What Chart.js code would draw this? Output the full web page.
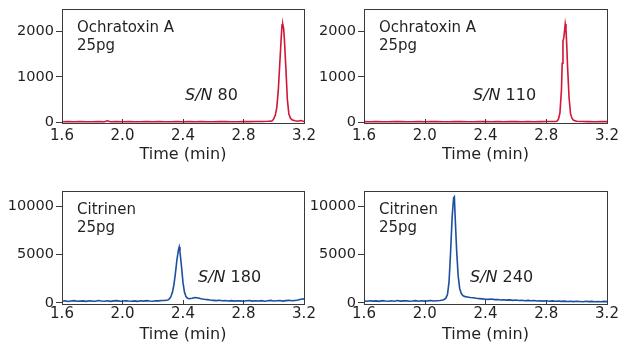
<!DOCTYPE html>
<html>
<head>
<meta charset="utf-8">
<script src="https://cdn.jsdelivr.net/npm/chart.js@4.4.1/dist/chart.umd.min.js"></script>
<style>
  html, body { margin: 0; padding: 0; background: #fff; }
  #wrap { position: relative; width: 620px; height: 344px; overflow: hidden; }
  canvas { position: absolute; }
</style>
</head>
<body>
<div id="wrap">
  <canvas id="c1" width="320" height="164" style="left:0;top:0"></canvas>
  <canvas id="c2" width="320" height="164" style="left:300px;top:0"></canvas>
  <canvas id="c3" width="320" height="174" style="left:0;top:170px"></canvas>
  <canvas id="c4" width="320" height="174" style="left:300px;top:170px"></canvas>
</div>
<script>
// time axis ticks (min)
const timeTicks = [1.6, 2.0, 2.4, 2.8, 3.2];
const otaTicks = [0, 1000, 2000];
const citTicks = [0, 5000, 10000];

// Ochratoxin A, left panel (S/N 80)
const otaTimeA = [1.60,1.64,1.68,1.72,1.76,1.80,1.84,1.88,1.90,1.92,
  1.96,2.00,2.04,2.08,2.12,2.16,2.20,2.24,2.28,2.32,
  2.36,2.40,2.44,2.48,2.52,2.56,2.60,2.64,2.68,2.72,
  2.76,2.80,2.84,2.88,2.92,2.96,2.98,2.99,3.00,3.01,
  3.02,3.03,3.04,3.05,3.055,3.06,3.065,3.07,3.08,3.09,
  3.10,3.11,3.12,3.14,3.16,3.18,3.20];
const otaValsA = [8,12,6,10,9,7,11,8,30,9,
  10,8,12,7,9,11,8,10,6,9,
  12,8,10,7,11,9,8,12,10,9,
  7,11,10,12,14,18,22,30,70,150,
  320,700,1300,1900,2150,2160,2080,1850,1200,500,
  180,90,50,28,18,35,12];

// Ochratoxin A, right panel (S/N 110)
const otaTimeB = [1.60,1.64,1.68,1.72,1.76,1.80,1.84,1.88,1.92,1.96,
  2.00,2.04,2.08,2.12,2.16,2.20,2.24,2.28,2.32,2.36,
  2.40,2.44,2.48,2.52,2.56,2.60,2.64,2.68,2.72,2.76,
  2.80,2.84,2.86,2.87,2.88,2.89,2.90,2.905,2.91,2.915,
  2.92,2.925,2.93,2.935,2.94,2.95,2.96,2.97,2.98,3.00,
  3.04,3.08,3.12,3.16,3.20];
const otaValsB = [10,8,12,9,7,11,10,8,9,12,
  8,10,11,7,9,10,12,8,9,11,
  10,8,13,9,10,12,8,11,9,10,
  12,14,12,20,60,200,700,1300,1800,1850,
  2000,2170,2050,1700,1250,550,180,80,40,18,
  12,10,9,11,10];

// Citrinin, left panel (S/N 180)
const citTimeA = [1.60,1.62,1.64,1.66,1.68,1.70,1.72,1.74,1.76,1.78,
  1.80,1.82,1.84,1.86,1.88,1.90,1.92,1.94,1.96,1.98,
  2.00,2.02,2.04,2.06,2.08,2.10,2.12,2.14,2.16,2.18,
  2.20,2.22,2.24,2.26,2.28,
  2.30,2.31,2.32,2.33,2.34,2.35,2.36,2.37,2.375,2.38,2.39,2.40,2.41,2.42,2.43,2.44,
  2.46,2.48,2.50,2.52,2.54,2.56,2.58,2.60,2.62,2.64,
  2.66,2.68,2.70,2.72,2.74,2.76,2.78,2.80,2.82,2.84,
  2.86,2.88,2.90,2.92,2.94,2.96,2.98,3.00,3.02,3.04,
  3.06,3.08,3.10,3.12,3.14,3.16,3.18,3.20];
const citValsA = [180,220,150,200,240,170,190,210,160,230,
  190,170,250,200,180,220,160,210,240,190,
  170,230,200,180,210,160,220,190,240,200,
  180,230,210,250,260,
  300,420,650,1100,1900,3100,4500,5500,5800,5300,3800,2100,1100,650,480,430,
  480,560,520,430,380,340,300,270,240,280,
  220,250,200,240,190,230,210,170,220,250,
  190,230,200,240,180,220,260,200,230,250,
  190,240,270,220,260,300,380,420];

// Citrinin, right panel (S/N 240)
const citTimeB = [1.60,1.62,1.64,1.66,1.68,1.70,1.72,1.74,1.76,1.78,
  1.80,1.82,1.84,1.86,1.88,1.90,1.92,1.94,1.96,1.98,
  2.00,2.02,2.04,2.06,2.08,2.10,2.12,
  2.13,2.14,2.15,2.16,2.17,2.18,2.19,2.195,2.20,2.21,2.22,2.23,2.24,2.25,2.26,
  2.28,2.30,2.32,2.34,2.36,2.38,2.40,2.42,2.44,2.46,
  2.48,2.50,2.52,2.54,2.56,2.58,2.60,2.62,2.64,2.66,
  2.68,2.70,2.72,2.74,2.76,2.78,2.80,2.82,2.84,2.86,
  2.88,2.90,2.92,2.94,2.96,2.98,3.00,3.02,3.04,3.06,
  3.08,3.10,3.12,3.14,3.16,3.18,3.20];
const citValsB = [200,170,230,190,210,160,240,200,180,220,
  170,250,190,210,230,180,200,240,170,220,
  190,210,250,200,230,260,300,
  380,520,900,2200,5200,8800,10900,11000,9000,5400,2800,1500,1000,780,680,
  620,560,530,480,450,420,390,370,400,340,
  360,310,330,290,320,270,300,250,280,230,
  260,220,250,200,230,190,220,180,210,170,
  200,160,190,150,180,140,170,150,130,170,
  140,160,120,150,130,160,140];

const textColor = '#231f20';
const red = '#d31539';
const blue = '#1c4f9e';
Chart.defaults.font.family = 'DejaVu Sans';
Chart.defaults.color = textColor;

const panelDeco = {
  id: 'panelDeco',
  afterDatasetsDraw(chart, args, o) {
    const ctx = chart.ctx;
    const a = chart.chartArea;
    const xs = chart.scales.x;
    ctx.save();
    // small inward ticks on time axis
    ctx.strokeStyle = '#3a3a3a';
    ctx.lineWidth = 1;
    ctx.beginPath();
    timeTicks.forEach(t => {
      const px = Math.round(xs.getPixelForValue(t)) + 0.5;
      ctx.moveTo(px, a.bottom);
      ctx.lineTo(px, a.bottom - 4);
    });
    ctx.stroke();
    // frame
    ctx.strokeRect(Math.round(a.left) + 0.5, Math.round(a.top) + 0.5,
      Math.round(a.right - a.left), Math.round(a.bottom - a.top));
    // labels
    ctx.fillStyle = textColor;
    ctx.textBaseline = 'alphabetic';
    ctx.font = '15px "DejaVu Sans"';
    ctx.fillText(o.name, a.left + 15, a.top + 22.5);
    ctx.fillText(o.amount, a.left + 15, a.top + 41);
    ctx.font = 'italic 16px "DejaVu Sans"';
    const x0 = a.left + o.snX;
    ctx.fillText('S/N', x0, a.top + 91);
    const w = ctx.measureText('S/N').width;
    ctx.font = '16px "DejaVu Sans"';
    ctx.fillText(' ' + o.sn, x0 + w, a.top + 91);
    ctx.restore();
  }
};

function makePanel(id, p) {
  const canvas = document.getElementById(id);
  const H = canvas.height;
  return new Chart(canvas, {
    type: 'line',
    data: {
      datasets: [{
        data: p.times.map((t, i) => ({ x: t, y: p.vals[i] })),
        borderColor: p.color,
        borderWidth: 1.6,
        pointRadius: 0,
        tension: 0,
        fill: false
      }]
    },
    options: {
      responsive: false,
      animation: false,
      devicePixelRatio: 1,
      layout: { padding: { left: 0, top: p.top, right: p.right, bottom: 0 } },
      plugins: {
        legend: { display: false },
        tooltip: { enabled: false },
        panelDeco: { name: p.name, amount: '25pg', sn: p.sn, snX: p.snX }
      },
      scales: {
        x: {
          type: 'linear',
          min: 1.6,
          max: 3.2,
          afterBuildTicks: s => { s.ticks = timeTicks.map(v => ({ value: v })); },
          afterFit: s => { s.height = H - p.bottom; s.paddingLeft = 0; s.paddingRight = 0; },
          ticks: { font: { size: 15 }, color: textColor, padding: p.tickPad, maxRotation: 0,
                   callback: v => v.toFixed(1) },
          grid: { display: false, drawTicks: false },
          border: { display: false },
          title: { display: true, text: 'Time (min)', font: { size: 16 }, color: textColor,
                   padding: { top: 0, bottom: 0 } }
        },
        y: {
          type: 'linear',
          min: p.yMin,
          max: p.yMax,
          afterBuildTicks: s => { s.ticks = p.yTicks.map(v => ({ value: v })); },
          afterFit: s => { s.width = p.yW; s.paddingTop = 0; s.paddingBottom = 0; },
          ticks: { font: { size: 14.5 }, color: textColor, padding: 2, callback: v => String(v) },
          grid: { drawOnChartArea: false, drawTicks: true, tickLength: 6, color: '#3a3a3a' },
          border: { display: false }
        }
      }
    },
    plugins: [panelDeco]
  });
}

makePanel('c1', { times: otaTimeA, vals: otaValsA, color: red, name: 'Ochratoxin A', sn: '80',
  snX: 123, yMin: -20, yMax: 2500, yTicks: otaTicks, yW: 62, top: 9, bottom: 123, right: 16, tickPad: 4 });
makePanel('c2', { times: otaTimeB, vals: otaValsB, color: red, name: 'Ochratoxin A', sn: '110',
  snX: 109, yMin: -20, yMax: 2500, yTicks: otaTicks, yW: 64, top: 9, bottom: 123, right: 13, tickPad: 4 });
makePanel('c3', { times: citTimeA, vals: citValsA, color: blue, name: 'Citrinen', sn: '180',
  snX: 136, yMin: -110, yMax: 11600, yTicks: citTicks, yW: 62, top: 21, bottom: 134, right: 16, tickPad: 1 });
makePanel('c4', { times: citTimeB, vals: citValsB, color: blue, name: 'Citrinen', sn: '240',
  snX: 106, yMin: -110, yMax: 11600, yTicks: citTicks, yW: 64, top: 21, bottom: 134, right: 13, tickPad: 1 });
</script>
</body>
</html>
